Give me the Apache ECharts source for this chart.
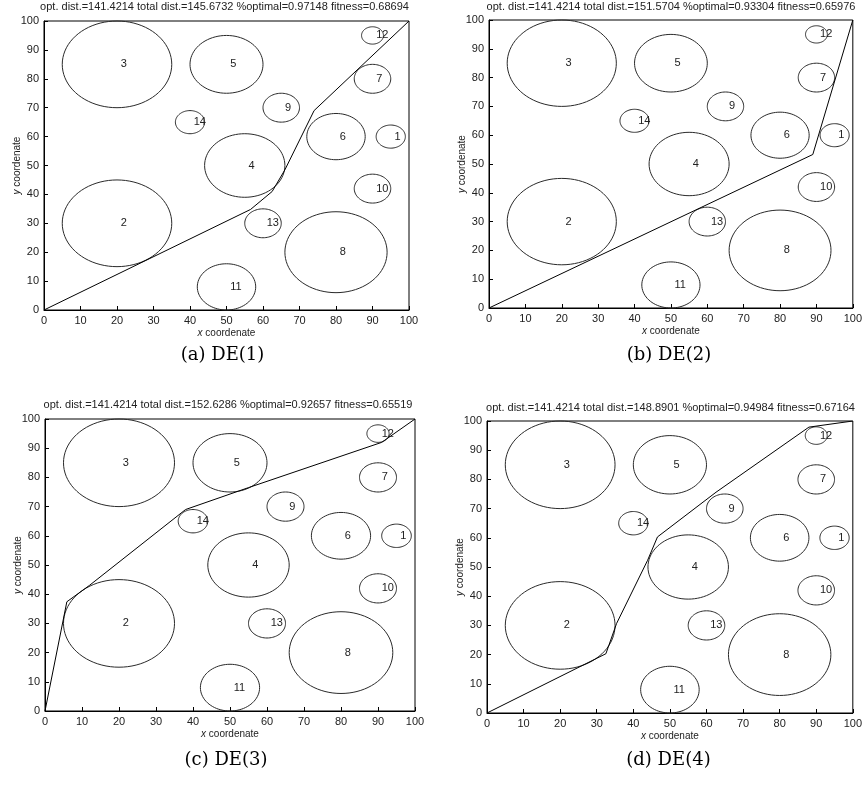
<!DOCTYPE html>
<html>
<head>
<meta charset="utf-8">
<script src="https://cdn.jsdelivr.net/npm/echarts@6/dist/echarts.min.js"></script>
<style>html,body{margin:0;padding:0;background:#fff}#c{width:865px;height:785px}</style>
</head>
<body>
<div id="c"></div>
<script>
// ---- data ----
const circleIds = [1, 2, 3, 4, 5, 6, 7, 8, 9, 10, 11, 12, 13, 14];
const circleX   = [95, 20, 20, 55, 50, 80, 90, 80, 65, 90, 50, 90, 60, 40];
const circleY   = [60, 30, 85, 50, 85, 60, 80, 20, 70, 42, 8, 95, 30, 65];
const circleR   = [4, 15, 15, 11, 10, 8, 5, 14, 5, 5, 8, 3, 5, 4];

const pathA = [[0, 0], [56.6, 34.8], [62.5, 41], [66, 48.5], [74, 69], [100, 100]];
const pathB = [[0, 0], [89, 53.3], [100, 100]];
const pathC = [[0, 0], [5.9, 37.4], [12, 43], [38, 69], [55, 76.5], [91, 92], [100, 100]];
const pathD = [[0, 0], [32.5, 20.3], [35.4, 30.6], [43.9, 52.3], [46.6, 60.3], [62.6, 75.6], [88, 97.9], [100, 100]];

const titles = [
  'opt. dist.=141.4214 total dist.=145.6732 %optimal=0.97148 fitness=0.68694',
  'opt. dist.=141.4214 total dist.=151.5704 %optimal=0.93304 fitness=0.65976',
  'opt. dist.=141.4214 total dist.=152.6286 %optimal=0.92657 fitness=0.65519',
  'opt. dist.=141.4214 total dist.=148.8901 %optimal=0.94984 fitness=0.67164'
];
const captions = ['(a) DE(1)', '(b) DE(2)', '(c) DE(3)', '(d) DE(4)'];
const xTicks = [0, 10, 20, 30, 40, 50, 60, 70, 80, 90, 100];

// ---- layout ----
const grids = [
  {left: 44, top: 21, width: 365, height: 289},
  {left: 489, top: 20, width: 368, height: 288},
  {left: 45, top: 419, width: 370, height: 292},
  {left: 487, top: 421, width: 371, height: 292}
];
const paths = [pathA, pathB, pathC, pathD];
const titleY = [1, 1, 399, 402];
const captionY = [346, 346, 751, 751];

const FONT = '"Liberation Sans", Arial, sans-serif';
const circleData = circleIds.map((id, i) => [circleX[i], circleY[i], circleR[i], id]);

function renderCircle(params, api) {
  const x = api.value(0), y = api.value(1), r = api.value(2);
  const pts = [];
  const n = 80;
  for (let k = 0; k < n; k++) {
    const t = k / n * 2 * Math.PI;
    pts.push(api.coord([x + r * Math.cos(t), y + r * Math.sin(t)]));
  }
  const lp = api.coord([x + 1, y]);
  return {
    type: 'group',
    children: [
      {type: 'polygon', shape: {points: pts}, style: {fill: null, stroke: '#2a2a2a', lineWidth: 1}},
      {type: 'text', style: {text: String(api.value(3)), x: lp[0], y: lp[1],
        align: 'left', verticalAlign: 'middle', textAlign: 'left', textVerticalAlign: 'middle',
        fill: '#222', fontSize: 11, fontFamily: FONT}}
    ]
  };
}

const option = {
  animation: false,
  backgroundColor: '#fff',
  title: [],
  grid: [],
  xAxis: [],
  yAxis: [],
  series: []
};

grids.forEach((g, i) => {
  option.grid.push({left: g.left, top: g.top, width: g.width, height: g.height,
    show: true, borderColor: '#000', borderWidth: 1, backgroundColor: '#fff'});
  const axisCommon = {
    gridIndex: i, type: 'value', min: 0, max: 100, interval: 10,
    axisLine: {show: true, lineStyle: {color: '#000', width: 1}},
    axisTick: {show: true, inside: true, length: 4, lineStyle: {color: '#000'}},
    axisLabel: {color: '#222', fontSize: 11, fontFamily: FONT, margin: 5},
    splitLine: {show: false},
    nameLocation: 'middle',
    nameMoveOverlap: false,
    nameTextStyle: {color: '#222', fontSize: 10, fontFamily: FONT,
      rich: {i: {fontStyle: 'italic', fontSize: 10, fontFamily: FONT, color: '#222'}}}
  };
  option.xAxis.push(Object.assign({}, axisCommon, {
    name: '{i|x} coordenate', nameGap: 18,
    axisLabel: Object.assign({}, axisCommon.axisLabel, {formatter: v => xTicks.indexOf(v) >= 0 ? String(v) : ''})
  }));
  option.yAxis.push(Object.assign({}, axisCommon, {
    name: '{i|y} coordenate', nameGap: 22
  }));
  option.title.push({
    text: titles[i], left: g.left + g.width / 2 - 2, top: titleY[i], textAlign: 'center', padding: 0,
    textStyle: {fontSize: 11, fontWeight: 'normal', color: '#222', fontFamily: FONT}
  });
  option.title.push({
    text: captions[i], left: g.left + g.width / 2 - 4, top: captionY[i], textAlign: 'center', padding: 0,
    textStyle: {fontSize: 18, fontWeight: 'normal', color: '#000', fontFamily: '"DejaVu Serif", "Liberation Serif", serif'}
  });
  option.series.push({
    type: 'custom', xAxisIndex: i, yAxisIndex: i, data: circleData,
    encode: {x: 0, y: 1}, renderItem: renderCircle, silent: true, clip: false
  });
  option.series.push({
    type: 'line', xAxisIndex: i, yAxisIndex: i, data: paths[i],
    showSymbol: false, symbol: 'none', lineStyle: {color: '#000', width: 1}, silent: true
  });
});

const chart = echarts.init(document.getElementById('c'), null, {renderer: 'canvas'});
chart.setOption(option);
</script>
</body>
</html>
